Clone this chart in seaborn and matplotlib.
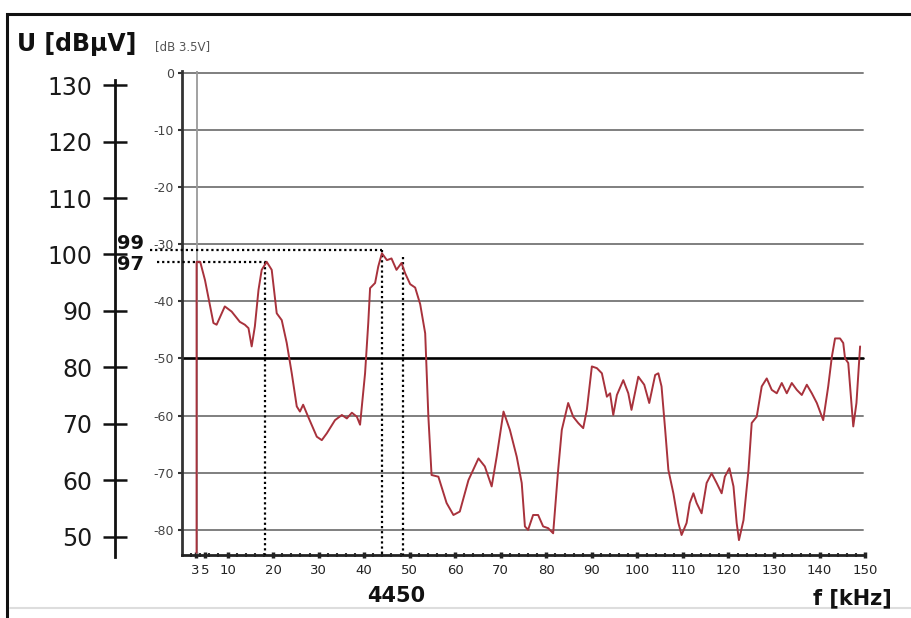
import numpy as np
import pandas as pd
import matplotlib
matplotlib.use("Agg")
import matplotlib.pyplot as plt
import matplotlib.patches as patches
import seaborn as sns

# ---------------- data ----------------
freq_khz = [3.2, 3.2, 4.0, 5.05, 6.9, 7.6, 9.4, 10.9, 12.7, 13.8, 14.6, 15.3, 16.0, 16.8, 17.5,
            18.6, 19.7, 20.8, 21.9, 23.0, 24.1, 25.2, 25.9, 26.6, 27.7, 29.6, 30.7, 31.8, 33.6,
            35.1, 36.2, 37.3, 38.4, 39.1, 40.2, 40.9, 41.3, 42.4, 43.1, 43.9, 45.0, 46.0, 47.1,
            48.2, 49.0, 50.1, 51.2, 52.3, 53.4, 54.1, 54.8, 56.3, 58.1, 59.6, 61.0, 62.9, 65.1,
            66.5, 68.0, 69.1, 70.6, 72.0, 73.5, 74.6, 75.3, 76.0, 77.1, 78.2, 79.3, 80.4, 81.5,
            82.6, 83.4, 84.8, 85.9, 87.0, 88.1, 88.9, 90.0, 91.1, 92.2, 93.3, 94.0, 94.7, 95.5,
            96.9, 98.0, 98.7, 100.2, 101.5, 102.6, 103.9, 104.6, 105.3, 106.1, 106.8, 107.9,
            109.0, 109.7, 110.8, 111.5, 112.3, 113.0, 114.1, 115.2, 116.3, 117.4, 118.5, 119.2,
            120.2, 121.1, 121.8, 122.3, 123.3, 124.4, 125.1, 126.2, 127.3, 128.4, 129.5, 130.6,
            131.7, 132.8, 133.9, 135.0, 136.1, 137.2, 138.3, 139.4, 140.8, 141.9, 142.7, 143.4,
            144.5, 145.2, 145.6, 146.3, 147.4, 148.1, 148.9]
level_db = [-84.0, -33.1, -33.1, -36.3, -43.8, -44.1, -40.9, -41.8, -43.6, -44.1, -44.7, -47.9,
            -44.4, -38.0, -34.5, -33.1, -34.5, -42.1, -43.3, -47.3, -52.6, -58.4, -59.3, -58.1,
            -60.2, -63.7, -64.3, -63.1, -60.8, -59.9, -60.5, -59.5, -60.2, -61.6, -52.6, -43.8,
            -37.7, -36.8, -33.9, -31.6, -32.8, -32.5, -34.5, -33.3, -35.1, -37.0, -37.6, -40.5,
            -45.6, -60.2, -70.4, -70.7, -75.3, -77.4, -76.8, -71.3, -67.5, -68.9, -72.4, -67.2,
            -59.3, -62.5, -67.2, -71.8, -79.4, -80.0, -77.4, -77.4, -79.4, -79.7, -80.6, -69.5,
            -62.5, -57.8, -60.2, -61.3, -62.2, -59.0, -51.4, -51.7, -52.6, -56.7, -56.1, -59.9,
            -56.4, -53.8, -56.1, -59.0, -53.2, -54.6, -57.8, -52.9, -52.6, -54.9, -62.5, -69.5,
            -73.6, -78.8, -80.9, -78.8, -75.3, -73.6, -75.3, -77.1, -71.8, -70.1, -71.8, -73.6,
            -70.7, -69.2, -72.4, -78.8, -81.8, -78.3, -69.5, -61.3, -60.2, -54.9, -53.5, -55.5,
            -56.1, -54.3, -56.1, -54.3, -55.5, -56.4, -54.6, -56.1, -57.8, -60.8, -54.9, -49.7,
            -46.5, -46.5, -47.3, -50.0, -50.8, -61.9, -57.8, -47.9]

db_ticks = [0, -10, -20, -30, -40, -50, -60, -70, -80]
db_tick_labels = ["0", "-10", "-20", "-30", "-40", "-50", "-60", "-70", "-80"]
dbuv_ticks = [50, 60, 70, 80, 90, 100, 110, 120, 130]
x_ticks = [3, 5, 10, 20, 30, 40, 50, 60, 70, 80, 90, 100, 110, 120, 130, 140, 150]
x_tick_labels = [str(v) for v in x_ticks]

# marker (cursor) lines
marker_freqs = [18.2, 43.9, 48.5]
marker_tops = [-33.1, -31.0, -32.3]
hline_levels = [-31.0, -33.1]
hline_ends = [43.9, 18.6]
hline_starts = [-7.0, -5.5]
peak_labels = ["99", "97"]
threshold_db = -50
start_freq = 3.3

df = pd.DataFrame({"f": freq_khz, "dB": level_db})

# ---------------- figure ----------------
sns.set_style("white")
plt.rcParams["font.family"] = ["DejaVu Sans"]

W, H = 912, 618
fig = plt.figure(figsize=(W / 100, H / 100), dpi=100)
fig.patch.set_facecolor("white")

def fx(px):
    return px / W

def fy(py):
    return 1 - py / H

X0, XMAX = 0.0, 150.5
Y_TOP, Y_BOT = 0.3, -84.4
ax_left_px, ax_right_px = 182, 182 + 4.554 * XMAX
ax_top_px, ax_bot_px = 71, 555
ax = fig.add_axes([fx(ax_left_px), fy(ax_bot_px), (ax_right_px - ax_left_px) / W,
                   (ax_bot_px - ax_top_px) / H])
ax.set_facecolor("white")
ax.set_xlim(X0, XMAX)
ax.set_ylim(Y_BOT, Y_TOP)

# gridlines
for v in db_ticks:
    if v == threshold_db:
        ax.axhline(v, xmin=0, xmax=149.5 / XMAX, color="black", lw=1.9, zorder=2)
    else:
        ax.axhline(v, xmin=0, xmax=149.5 / XMAX, color="#7f7f7f", lw=1.4, zorder=1)

ax.axvline(start_freq, color="#9a9a9a", lw=1.3, zorder=1)

# cursor dotted lines
dot = (0, (1, 1.3))
for f, top in zip(marker_freqs, marker_tops):
    ax.plot([f, f], [top, Y_BOT], color="black", lw=1.6, ls=dot, zorder=3)
for lv, x0, x1 in zip(hline_levels, hline_starts, hline_ends):
    ax.plot([x0, x1], [lv, lv], color="black", lw=1.6, ls=dot, zorder=3, clip_on=False)

# trace
sns.lineplot(data=df, x="f", y="dB", sort=False, estimator=None, color="#a8323c",
             lw=1.4, ax=ax, zorder=4)

ax.set_xlabel("")
ax.set_ylabel("")
for s in ["top", "right"]:
    ax.spines[s].set_visible(False)
ax.spines["left"].set_color("#333333")
ax.spines["left"].set_linewidth(2.0)
ax.spines["bottom"].set_color("#222222")
ax.spines["bottom"].set_linewidth(2.0)
ax.spines["bottom"].set_bounds(0, 149.8)

ax.set_yticks(db_ticks)
ax.set_yticklabels(db_tick_labels)
ax.tick_params(axis="y", left=True, direction="out", length=3, width=1.5, pad=3, labelsize=9,
               labelcolor="#444444", color="#333333")
ax.set_xticks(x_ticks)
ax.set_xticklabels(x_tick_labels)
ax.set_xticks(np.arange(2, 150, 2), minor=True)
ax.tick_params(axis="x", which="major", bottom=True, direction="inout", length=5, width=2.5,
               pad=4, labelsize=9.5, labelcolor="#222222", color="#222222")
ax.tick_params(axis="x", which="minor", bottom=True, direction="inout", length=3, width=1.5,
               color="#333333")

# second (dBuV) scale
ax2 = fig.add_axes([fx(115), fy(ax_bot_px), 0.0005, (ax_bot_px - ax_top_px) / H])
ax2.patch.set_alpha(0)
ax2.set_ylim(46.81, 132.48)
for s in ["top", "right", "bottom"]:
    ax2.spines[s].set_visible(False)
ax2.spines["left"].set_linewidth(2.0)
ax2.spines["left"].set_color("#111111")
ax2.spines["left"].set_bounds(46.5, 130.9)
ax2.set_xticks([])
ax2.set_yticks(dbuv_ticks)
ax2.set_yticklabels([str(v) for v in dbuv_ticks])
ax2.tick_params(axis="y", left=True, direction="inout", length=17, width=1.8, pad=8,
                labelsize=17, labelcolor="#1a1a1a", color="#111111")

# texts
fig.text(fx(17), fy(44), "U [dBμV]", fontsize=17, fontweight="bold", ha="left", va="center",
         color="#111111")
fig.text(fx(155), fy(47), "[dB 3.5V]", fontsize=8.5, ha="left", va="center", color="#555555")
fig.text(fx(131), fy(243), peak_labels[0], fontsize=14, fontweight="bold", ha="center",
         va="center", color="#111111")
fig.text(fx(131), fy(265), peak_labels[1], fontsize=14, fontweight="bold", ha="center",
         va="center", color="#111111")
fig.text(fx(396), fy(596), "4450", fontsize=15, fontweight="bold", ha="center", va="center",
         color="#111111")
fig.text(fx(892), fy(598), "f [kHz]", fontsize=15, fontweight="bold", ha="right", va="center",
         color="#111111")

# outer frame
fig.add_artist(patches.Rectangle((fx(7), -0.1), 1.2, fy(14) + 0.1, transform=fig.transFigure,
                                 fill=False, lw=2.2, ec="#111111"))
fig.add_artist(plt.Line2D([fx(10), 1], [fy(608), fy(608)], transform=fig.transFigure,
                          color="#dddddd", lw=1.5))

fig.savefig("out.png", dpi=100, facecolor="white")
